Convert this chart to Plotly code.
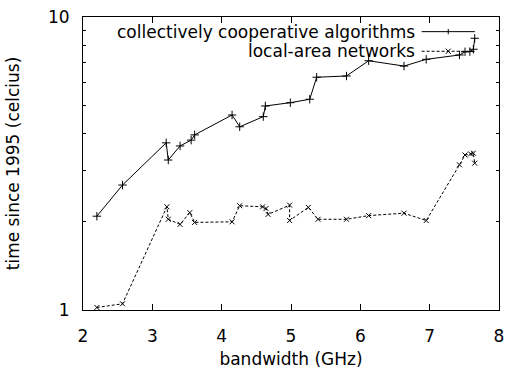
import plotly.graph_objects as go

# Data
s1_name = "collectively cooperative algorithms"
s1_x = [2.20, 2.57, 3.20, 3.23, 3.40, 3.56, 3.61, 4.15, 4.26, 4.60, 4.63, 4.99,
        5.27, 5.37, 5.80, 6.12, 6.63, 6.95, 7.43, 7.51, 7.58, 7.63, 7.65]
s1_y = [2.09, 2.67, 3.72, 3.25, 3.63, 3.80, 3.96, 4.63, 4.22, 4.57, 4.97, 5.10,
        5.24, 6.23, 6.29, 7.09, 6.80, 7.17, 7.42, 7.61, 7.62, 7.76, 8.46]

s2_name = "local-area networks"
s2_x = [2.20, 2.57, 3.21, 3.23, 3.40, 3.54, 3.61, 4.15, 4.26, 4.59, 4.64, 4.67,
        4.98, 4.98, 5.25, 5.39, 5.80, 6.12, 6.63, 6.95, 7.43, 7.51, 7.59, 7.63, 7.65]
s2_y = [1.02, 1.05, 2.25, 2.04, 1.96, 2.15, 1.99, 2.00, 2.27, 2.25, 2.22, 2.12,
        2.28, 2.02, 2.24, 2.04, 2.04, 2.10, 2.14, 2.02, 3.13, 3.38, 3.41, 3.43, 3.17]

x_ticks = [2, 3, 4, 5, 6, 7, 8]
y_ticks = [1, 10]
y_minor = [2, 3, 4, 5, 6, 7, 8, 9]

FONT = "DejaVu Sans"
FS = 17

fig = go.Figure()
fig.add_trace(go.Scatter(
    x=s1_x, y=s1_y, mode="lines+markers", name=s1_name,
    line=dict(color="black", width=1),
    marker=dict(symbol="cross-thin", size=6, line=dict(color="black", width=1)),
))
fig.add_trace(go.Scatter(
    x=s2_x, y=s2_y, mode="lines+markers", name=s2_name,
    line=dict(color="black", width=1, dash="3px,2px"),
    marker=dict(symbol="x-thin", size=5, line=dict(color="black", width=1)),
))

# gnuplot-style legend: text right-aligned, sample on the right
leg_rows = [(s1_name, 0.95, "solid", "cross"), (s2_name, 0.883, "dash", "x")]
x0, x1 = 0.814, 0.942
for name, yy, dash, sym in leg_rows:
    fig.add_annotation(xref="paper", yref="paper", x=x0 - 0.012, y=yy, text=name,
                       showarrow=False, xanchor="right", yanchor="middle",
                       font=dict(family=FONT, size=FS, color="black"))
    fig.add_shape(type="line", xref="paper", yref="paper", x0=x0, x1=x1, y0=yy, y1=yy,
                  line=dict(color="black", width=1, dash="solid" if dash == "solid" else "3px,2px"))
    xm = (x0 + x1) / 2
    dx, dy = 0.006, 0.009
    if sym == "cross":
        fig.add_shape(type="line", xref="paper", yref="paper", x0=xm, x1=xm, y0=yy - dy, y1=yy + dy,
                      line=dict(color="black", width=1))
    else:
        fig.add_shape(type="line", xref="paper", yref="paper", x0=xm - dx, x1=xm + dx, y0=yy - dy, y1=yy + dy,
                      line=dict(color="black", width=1))
        fig.add_shape(type="line", xref="paper", yref="paper", x0=xm - dx, x1=xm + dx, y0=yy + dy, y1=yy - dy,
                      line=dict(color="black", width=1))

fig.update_layout(
    width=507, height=369,
    margin=dict(l=83, r=8, t=17, b=59),
    paper_bgcolor="white", plot_bgcolor="white",
    showlegend=False,
    font=dict(family=FONT, size=FS, color="black"),
)
fig.update_xaxes(
    range=[2, 8], tickvals=x_ticks, ticktext=[str(v) for v in x_ticks],
    ticks="inside", ticklen=6, tickcolor="black", tickwidth=1,
    showline=True, linecolor="black", linewidth=1, mirror="ticks",
    showgrid=False, zeroline=False, ticklabelstandoff=11, automargin=False,
    title=dict(text="bandwidth (GHz)", standoff=17, font=dict(family=FONT, size=FS)),
)
fig.update_yaxes(
    type="log", range=[0, 1], tickvals=y_ticks, ticktext=[str(v) for v in y_ticks],
    ticks="inside", ticklen=6, tickcolor="black", tickwidth=1,
    minor=dict(tickvals=y_minor, ticks="inside", ticklen=3, tickcolor="black", showgrid=False),
    showline=True, linecolor="black", linewidth=1, mirror="ticks",
    showgrid=False, zeroline=False, ticklabelstandoff=9, automargin=False,
    title=dict(text="time since 1995 (celcius)", standoff=24, font=dict(family=FONT, size=FS)),
)

fig.write_html("out.html")
